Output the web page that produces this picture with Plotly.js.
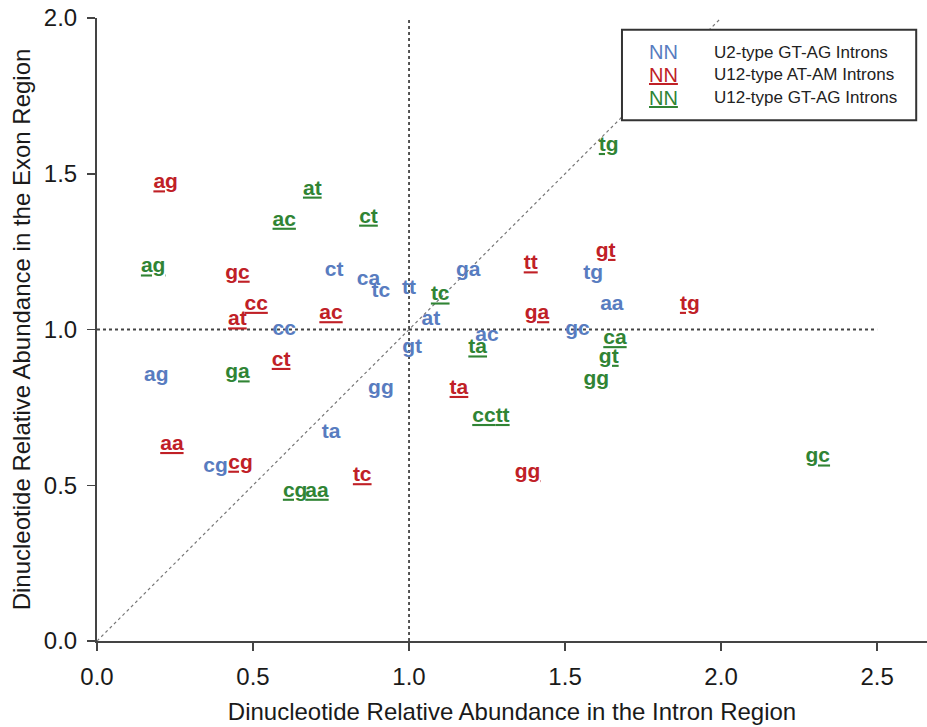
<!DOCTYPE html>
<html>
<head>
<meta charset="utf-8">
<script src="https://cdn.plot.ly/plotly-3.0.1.min.js"></script>
<style>html,body{margin:0;padding:0;background:#fff;}#chart{width:927px;height:727px;}</style>
</head>
<body>
<div id="chart"></div>
<script>
// U2-type GT-AG introns (blue, plain)
const u2Labels = ['ag','cg','ta','gg','gt','at','ac','ga','tt','tc','ca','ct','cc','gc','tg','aa'];
const u2X = [0.19,0.38,0.75,0.91,1.01,1.07,1.25,1.19,1.00,0.91,0.87,0.76,0.60,1.54,1.59,1.65];
const u2Y = [0.85,0.56,0.67,0.81,0.94,1.03,0.98,1.19,1.13,1.12,1.16,1.19,1.00,1.00,1.18,1.08];

// U12-type AT-AM introns (red, underlined)
const atamLabels = ['ag','gc','cc','at','ac','ct','aa','cg','tc','ta','gg','tt','ga','gt','tg'];
const atamX = [0.22,0.45,0.51,0.45,0.75,0.59,0.24,0.46,0.85,1.16,1.38,1.39,1.41,1.63,1.90];
const atamY = [1.47,1.18,1.08,1.03,1.05,0.90,0.63,0.57,0.53,0.81,0.54,1.21,1.05,1.25,1.08];

// U12-type GT-AG introns (green, underlined)
const gtagLabels = ['at','ac','ct','ag','ga','cg','aa','tc','ta','cc','tt','tg','ca','gt','gg','gc'];
const gtagX = [0.69,0.60,0.87,0.18,0.45,0.635,0.705,1.10,1.22,1.24,1.30,1.64,1.66,1.64,1.60,2.31];
const gtagY = [1.45,1.35,1.36,1.20,0.86,0.48,0.48,1.11,0.94,0.72,0.72,1.59,0.97,0.91,0.84,0.59];

const legendNames = ['U2-type GT-AG Introns','U12-type AT-AM Introns','U12-type GT-AG Introns'];
const xTicks = [0,0.5,1.0,1.5,2.0,2.5];
const yTicks = [0,0.5,1.0,1.5,2.0];

const BLUE = 'rgb(88,124,192)';
const RED = 'rgb(192,32,38)';
const GREEN = 'rgb(48,132,52)';
const FONT = 'Liberation Sans, Arial, sans-serif';

function tr(x, y, labels, color, underline) {
  return {
    type: 'scatter', mode: 'text', x: x, y: y,
    text: labels.map(t => underline ? '<b><u>' + t + '</u></b>' : '<b>' + t + '</b>'),
    textposition: 'middle center',
    textfont: {family: FONT, size: 21, color: color},
    hoverinfo: 'skip', showlegend: false, cliponaxis: false
  };
}

const data = [
  tr(u2X, u2Y, u2Labels, BLUE, false),
  tr(atamX, atamY, atamLabels, RED, true),
  tr(gtagX, gtagY, gtagLabels, GREEN, true)
];

const dot = {color: '#444', width: 1.8, dash: 'dot'};
const shapes = [
  {type: 'line', xref: 'x', yref: 'y', x0: 0, y0: 0, x1: 2, y1: 2, line: {color: '#777', width: 1.2, dash: 'dot'}, layer: 'below'},
  {type: 'line', xref: 'x', yref: 'y', x0: 1, y0: 0, x1: 1, y1: 2, line: dot, layer: 'below'},
  {type: 'line', xref: 'x', yref: 'y', x0: 0, y0: 1, x1: 2.5, y1: 1, line: dot, layer: 'below'},
  {type: 'rect', xref: 'paper', yref: 'paper', x0: 0.6325, x1: 0.987, y0: 0.836, y1: 0.981, line: {color: '#333', width: 2}, fillcolor: '#fff', layer: 'above'}
];

const legColors = [BLUE, RED, GREEN];
const legY = [0.945, 0.909, 0.872];
const annotations = [];
for (let i = 0; i < 3; i++) {
  annotations.push({xref: 'paper', yref: 'paper', x: 0.682, y: legY[i], xanchor: 'center', yanchor: 'middle',
    text: i === 0 ? 'NN' : '<u>NN</u>', showarrow: false,
    font: {family: FONT, size: 20, color: legColors[i]}});
  annotations.push({xref: 'paper', yref: 'paper', x: 0.741, y: legY[i], xanchor: 'left', yanchor: 'middle',
    text: legendNames[i], showarrow: false,
    font: {family: FONT, size: 17, color: '#222'}});
}

const axisCommon = {
  showline: true, linecolor: '#444', linewidth: 2, ticks: 'outside', ticklen: 8, tickwidth: 1.5, tickcolor: '#444',
  showgrid: false, zeroline: false, tickfont: {family: FONT, size: 24, color: '#1a1a1a'}, ticklabelstandoff: 5
};

const layout = {
  width: 927, height: 727,
  margin: {l: 97, r: 0, t: 18, b: 86},
  paper_bgcolor: '#fff', plot_bgcolor: '#fff',
  showlegend: false,
  xaxis: Object.assign({}, axisCommon, {
    range: [0, 2.66], tickvals: xTicks, ticktext: xTicks.map(v => v.toFixed(1)),
    title: {text: 'Dinucleotide Relative Abundance in the Intron Region', font: {family: FONT, size: 24, color: '#1a1a1a'}, standoff: 14}
  }),
  yaxis: Object.assign({}, axisCommon, {
    range: [0, 2], tickvals: yTicks, ticktext: yTicks.map(v => v.toFixed(1)),
    title: {text: 'Dinucleotide Relative Abundance in the Exon Region', font: {family: FONT, size: 24, color: '#1a1a1a'}, standoff: 6}
  }),
  shapes: shapes,
  annotations: annotations
};

Plotly.newPlot('chart', data, layout, {displayModeBar: false, staticPlot: true});
</script>
</body>
</html>
